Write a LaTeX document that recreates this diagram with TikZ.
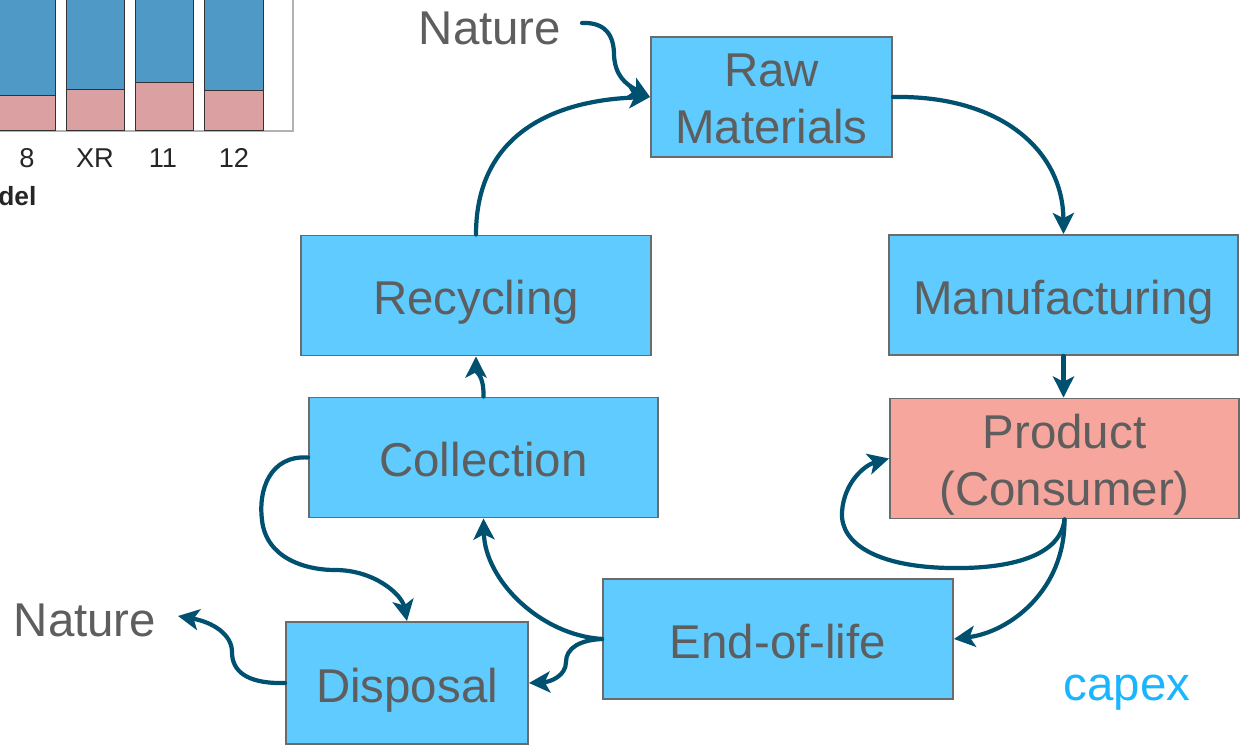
\documentclass[tikz,border=0pt]{standalone}
\usepackage{fontspec}
\setmainfont{Liberation Sans}
\usetikzlibrary{arrows.meta}

\definecolor{boxfill}{HTML}{5FCBFE}
\definecolor{prodfill}{HTML}{F6A69C}
\definecolor{boxline}{HTML}{6B6B6B}
\definecolor{boxtext}{HTML}{5E5E5E}
\definecolor{flowcol}{HTML}{00506F}
\definecolor{capexcol}{HTML}{19B5FE}
\definecolor{barblue}{HTML}{4F99C6}
\definecolor{barpink}{HTML}{DBA0A1}

\newcommand{\boxfont}{\fontsize{27}{32.3}\selectfont}

\begin{document}
\begin{tikzpicture}[
    x=0.02cm, y=-0.02cm,
    stage/.style={draw=boxline, line width=1.1pt, fill=boxfill, text=boxtext,
      font=\boxfont, align=center, inner sep=0pt, minimum height=2.4cm,
      text height=26pt, text depth=4pt},
    twoline/.style={text height=59.5pt, text depth=6.5pt},
    flow/.style={draw=flowcol, line width=2.4pt, line cap=round,
      -{Stealth[length=12pt,width=12pt,inset=3pt]}},
    word/.style={text=boxtext, font=\boxfont, inner sep=0pt},
    bar/.style={draw=black!80, line width=0.5pt},
    tick/.style={text=black!85, font=\fontsize{15.5}{18}\selectfont, inner sep=0pt, anchor=base}
  ]

  \useasboundingbox (0,0) rectangle (1249,750);

  % part of a bar chart, top left
  \draw[gray!60, line width=0.8pt] (0,131) -- (293,131) -- (293,0);
  \foreach \xa/\xb/\ytop in {-5/55/95, 66/124/89, 135/193/82, 204/263/90} {
    \draw[bar, fill=barblue] (\xa,-5) rectangle (\xb,\ytop);
    \draw[bar, fill=barpink] (\xa,\ytop) rectangle (\xb,130);
  }
  \node[tick] (t8) at (27,168) {8};
  \node[tick] (tXR) at (95,168) {XR};
  \node[tick] (t11) at (163,168) {11};
  \node[tick] (t12) at (234,168) {12};
  \node[tick, anchor=base west, font=\bfseries\fontsize{15}{18}\selectfont] (axis) at (-2,206) {del};

  % life cycle
  \node[stage, twoline, minimum width=4.82cm] (raw) at (771.5,97) {Raw\\Materials};
  \node[stage, minimum width=6.98cm] (manuf) at (1063.5,295) {Manufacturing};
  \node[stage, twoline, minimum width=6.98cm, fill=prodfill] (prod) at (1064.5,458.5) {Product\\(Consumer)};
  \node[stage, minimum width=7cm] (rec) at (476,295.5) {Recycling};
  \node[stage, minimum width=6.98cm] (coll) at (483.5,457.5) {Collection};
  \node[stage, minimum width=7cm] (eol) at (778,639) {End-of-life};
  \node[stage, minimum width=4.84cm, minimum height=2.44cm] (disp) at (407,683) {Disposal};

  \node[word] (natA) at (490,28) {Nature};
  \node[word] (natB) at (85,620) {Nature};
  \node[word, text=capexcol] (capex) at (1127,693) {capex};

  \coordinate (inA) at (582,23);
  \coordinate (outB) at (178,616);

  \draw[flow] (inA) .. controls (605,22) and (614,35) .. (614,55)
    .. controls (615,75) and (625,84) .. (raw.west);
  \draw[flow] (rec.north) .. controls (476,130) and (560,100) .. (raw.west);
  \draw[flow] (raw.east) .. controls (1000,95) and (1063,150) .. (manuf.north);
  \draw[flow] (manuf.south) -- (manuf.south |- prod.north);
  \draw[flow] (prod.south) .. controls (1065,590) and (1010,632) .. (eol.east);
  \draw[flow] (prod.south) .. controls (1060,560) and (1000,569) .. (950,568)
    .. controls (880,567) and (840,545) .. (842,512)
    .. controls (844,482) and (865,465) .. (prod.west);
  \draw[flow] (eol.west) .. controls (540,635) and (485,580) .. (coll.south);
  \draw[flow] (eol.west) .. controls (580,640) and (566,648) .. (566,662)
    .. controls (566,676) and (550,682) .. (disp.east);
  \draw[flow] (coll.north) .. controls (484,375) and (476,372) .. (rec.south);
  \draw[flow] (coll.west) .. controls (270,455) and (258,490) .. (262,520)
    .. controls (266,558) and (305,570) .. (335,570)
    .. controls (375,570) and (402,595) .. (disp.north);
  \draw[flow] (disp.west) .. controls (245,684) and (232,670) .. (232,652)
    .. controls (232,634) and (212,622) .. (outB);

\end{tikzpicture}
\end{document}
